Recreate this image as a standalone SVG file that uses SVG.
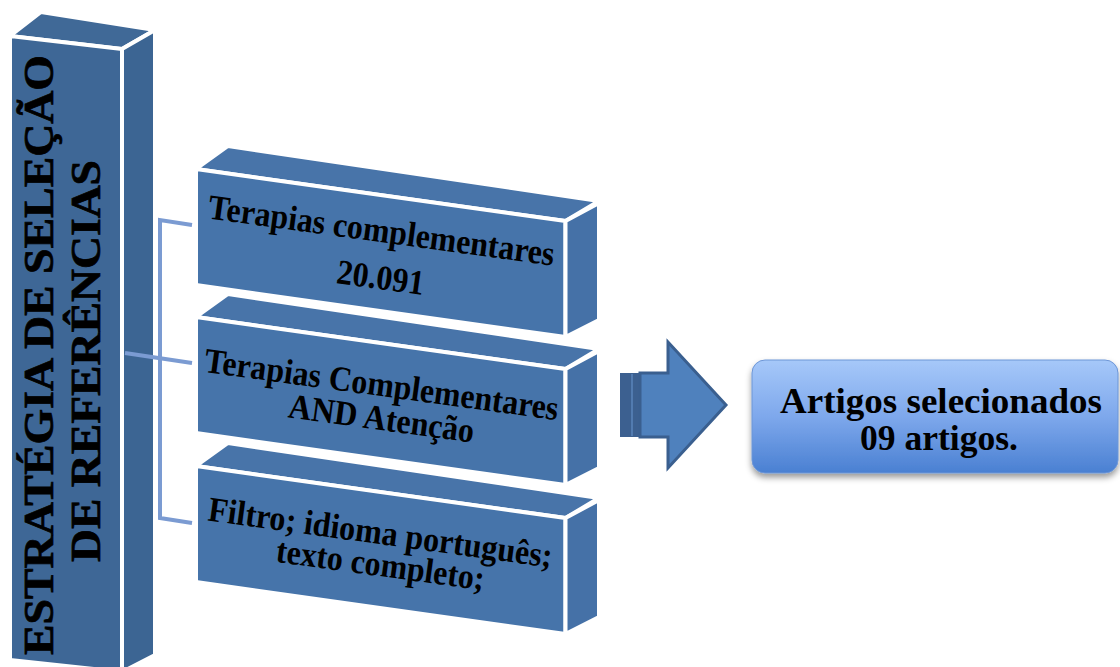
<svg xmlns="http://www.w3.org/2000/svg" width="1120" height="667" viewBox="0 0 1120 667">
<defs>
<style>
.face{stroke:#ffffff;stroke-width:4;stroke-linejoin:miter}
.pf{fill:#3e6796}.ps{fill:#3c6593}.pt{fill:#406997}
.bf{fill:#4674aa}.bs{fill:#4571a7}.bt{fill:#4874a9}
.t{font-family:"Liberation Serif","Times New Roman",Tinos,serif;font-weight:bold;fill:#000000;text-anchor:middle}
.heavy{stroke:#000000;stroke-width:0.7}
.bx{font-size:35px}
.conn{fill:none;stroke:#7b9bd2;stroke-width:4}
</style>
<linearGradient id="g1" x1="0" y1="0" x2="0" y2="1">
<stop offset="0" stop-color="#a6c8f9"/>
<stop offset="0.5" stop-color="#7ea8ec"/>
<stop offset="1" stop-color="#4a80d2"/>
</linearGradient>
<filter id="sh" x="-10%" y="-20%" width="120%" height="150%">
<feDropShadow dx="0" dy="4" stdDeviation="3" flood-color="#000" flood-opacity="0.4"/>
</filter>
</defs>

<g id="pillar">
<polygon class="face pt" points="10,36 41,12 155,30 122,49"/>
<polygon class="face pf" points="10,36 122,49 122,672 10,660"/>
<polygon class="face ps" points="122,49 155,30 155,655 122,672"/>
<text class="t heavy" font-size="42" transform="translate(53,355) rotate(-90)" textLength="600" lengthAdjust="spacingAndGlyphs">ESTRATÉGIA DE SELEÇÃO</text>
<text class="t heavy" font-size="42" transform="translate(100,361) rotate(-90)" textLength="402" lengthAdjust="spacingAndGlyphs">DE REFERÊNCIAS</text>
</g>

<g id="connectors">
<polyline class="conn" points="192,225 160,220 160,518 192,523"/>
<line class="conn" x1="125" y1="353" x2="192" y2="363"/>
</g>

<g id="box1">
<polygon class="face bt" points="196,169 228,146 599,201 565.5,221"/>
<polygon class="face bf" points="196,169 565.5,221 565.5,337 196,285"/>
<polygon class="face bs" points="565.5,221 599,203 599,320 565.5,337"/>
<text class="t bx" x="380" y="242" transform="rotate(7.8 380 242)" textLength="349" lengthAdjust="spacingAndGlyphs">Terapias complementares</text>
<text class="t bx" x="379" y="289" transform="rotate(7.8 379 289)" textLength="88" lengthAdjust="spacingAndGlyphs">20.091</text>
</g>

<g id="box2" transform="translate(0,148)">
<polygon class="face bt" points="196,169 228,146 599,201 565.5,221"/>
<polygon class="face bf" points="196,169 565.5,221 565.5,337 196,285"/>
<polygon class="face bs" points="565.5,221 599,203 599,320 565.5,337"/>
<text class="t bx" x="380" y="248" transform="rotate(7.8 380 248)" textLength="357" lengthAdjust="spacingAndGlyphs">Terapias Complementares</text>
<text class="t bx" x="380" y="282" transform="rotate(7.8 380 282)" textLength="187" lengthAdjust="spacingAndGlyphs">AND Atenção</text>
</g>

<g id="box3" transform="translate(0,297)">
<polygon class="face bt" points="196,169 228,146 599,201 565.5,221"/>
<polygon class="face bf" points="196,169 565.5,221 565.5,337 196,285"/>
<polygon class="face bs" points="565.5,221 599,203 599,320 565.5,337"/>
<text class="t bx" x="379" y="247" transform="rotate(7.8 379 247)" textLength="347" lengthAdjust="spacingAndGlyphs">Filtro; idioma português;</text>
<text class="t bx" x="379" y="279" transform="rotate(7.8 379 279)" textLength="210" lengthAdjust="spacingAndGlyphs">texto completo;</text>
</g>

<g id="arrow">
<rect x="620" y="373" width="21" height="64" fill="#3c6090"/>
<line x1="632" y1="374" x2="632" y2="436" stroke="#5a85bb" stroke-width="1.5"/>
<polygon points="640,373 668,373 668,342 726,405 668,468 668,437 640,437" fill="#4f81bd" stroke="#3a5f8f" stroke-width="3" stroke-linejoin="miter"/>
</g>

<g id="result">
<rect x="752" y="360" width="366" height="113" rx="13" ry="13" fill="url(#g1)" stroke="#6d96d6" stroke-width="1" filter="url(#sh)"/>
<text class="t" font-size="36" x="941" y="413" textLength="322" lengthAdjust="spacingAndGlyphs">Artigos selecionados</text>
<text class="t" font-size="36" x="939" y="450" textLength="158" lengthAdjust="spacingAndGlyphs">09 artigos.</text>
</g>
</svg>
